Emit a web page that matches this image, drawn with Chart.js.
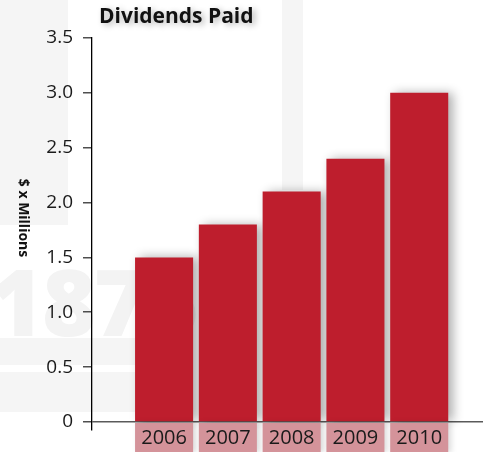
<!DOCTYPE html>
<html>
<head>
<meta charset="utf-8">
<script src="https://cdn.jsdelivr.net/npm/chart.js@4/dist/chart.umd.min.js"></script>
<style>
  html, body { margin: 0; padding: 0; background: #fff; }
  #wrap { position: relative; width: 490px; height: 452px; overflow: hidden; background: #fff; }
  /* faint page backdrop */
  .bg { position: absolute; background: #f5f5f5; }
  .mark { position: absolute; left: -10px; top: 238px; font: 900 92px "Open Sans", sans-serif; color: #f3f3f3; letter-spacing: -2px; }
  canvas { position: absolute; left: 0; top: 0; }
</style>
</head>
<body>
<div id="wrap">
  <div class="bg" style="left:0;top:0;width:68px;height:225px"></div>
  <div class="bg" style="left:282px;top:0;width:21px;height:190px"></div>
  <div class="bg" style="left:0;top:338px;width:135px;height:27px"></div>
  <div class="bg" style="left:0;top:372px;width:135px;height:40px"></div>
  <div class="mark">1875</div>
  <canvas id="myChart" width="490" height="452"></canvas>
</div>
<script>
const years = [2006, 2007, 2008, 2009, 2010];
const dividends = [1.5, 1.8, 2.1, 2.4, 3.0];
const yTicks = [0, 0.5, 1.0, 1.5, 2.0, 2.5, 3.0, 3.5];

const chartTitle = "Dividends Paid";
const yTitle = "$ x Millions";

const barRed = "#be1e2d";
const boxPink = "#d4939a";

// soft shadow behind the bars
const barShadow = {
  id: "barShadow",
  beforeDatasetsDraw(chart) {
    const ctx = chart.ctx;
    ctx.save();
    ctx.shadowColor = "rgba(0,0,0,0.32)";
    ctx.shadowBlur = 10;
    ctx.shadowOffsetX = 5;
    ctx.shadowOffsetY = 0;
  },
  afterDatasetsDraw(chart) {
    chart.ctx.restore();
  }
};

// year boxes under each bar, title and rotated axis label
const decorations = {
  id: "decorations",
  afterDraw(chart) {
    const ctx = chart.ctx;
    const y = chart.scales.y;
    const zero = y.getPixelForValue(0);
    const bars = chart.getDatasetMeta(0).data;

    ctx.save();
    bars.forEach((bar, i) => {
      const w = bar.width;
      const left = bar.x - w / 2;
      ctx.shadowColor = "rgba(0,0,0,0.15)";
      ctx.shadowBlur = 6;
      ctx.shadowOffsetX = 3;
      ctx.fillStyle = boxPink;
      ctx.fillRect(left, zero + 1, w, chart.height - zero);
      ctx.shadowColor = "transparent";
      ctx.fillStyle = "#1a1a1a";
      ctx.font = "20px 'Open Sans', sans-serif";
      ctx.textAlign = "center";
      ctx.textBaseline = "middle";
      ctx.fillText(String(years[i]), bar.x, zero + 16);
    });

    ctx.shadowColor = "rgba(0,0,0,0.3)";
    ctx.shadowBlur = 6;
    ctx.shadowOffsetY = 2;
    ctx.fillStyle = "#111";
    ctx.font = "bold 21px 'Open Sans', sans-serif";
    ctx.textAlign = "left";
    ctx.textBaseline = "middle";
    ctx.fillText(chartTitle, 99, 17);

    ctx.shadowColor = "transparent";
    ctx.shadowOffsetY = 0;
    ctx.translate(23, 218);
    ctx.rotate(Math.PI / 2);
    ctx.font = "bold 14px 'Open Sans', sans-serif";
    ctx.textAlign = "center";
    ctx.fillText(yTitle, 0, 0);
    ctx.restore();
  }
};

const ctx = document.getElementById("myChart").getContext("2d");
const chart = new Chart(ctx, {
  type: "bar",
  data: {
    datasets: [
      {
        label: chartTitle,
        data: years.map((yr, i) => ({ x: yr, y: dividends[i] })),
        backgroundColor: barRed,
        borderWidth: 0,
        barPercentage: 0.91,
        categoryPercentage: 1
      }
    ]
  },
  options: {
    responsive: false,
    animation: false,
    layout: { padding: { left: 0, right: 7, top: 38, bottom: 22 } },
    plugins: {
      legend: { display: false },
      title: { display: false },
      tooltip: { enabled: false }
    },
    scales: {
      x: {
        type: "linear",
        min: 2004.87,
        max: 2011.0,
        offset: false,
        display: false
      },
      y: {
        min: -0.073,
        max: 3.5,
        afterBuildTicks: scale => {
          scale.ticks = yTicks.map(v => ({ value: v }));
        },
        afterFit: scale => {
          scale.width = 92;
        },
        border: { display: true, color: "#000", width: 1.3 },
        grid: {
          color: c => (c.tick && c.tick.value === 0 ? "#5a5a5a" : "rgba(0,0,0,0)"),
          lineWidth: 1.6,
          tickColor: "#222",
          tickLength: 9,
          tickWidth: 1.2
        },
        ticks: {
          padding: 10,
          color: "#1a1a1a",
          font: { family: "'Open Sans', sans-serif", size: 19 },
          callback: v => (v === 0 ? "0" : v.toFixed(1))
        }
      }
    }
  },
  plugins: [barShadow, decorations]
});
</script>
</body>
</html>
